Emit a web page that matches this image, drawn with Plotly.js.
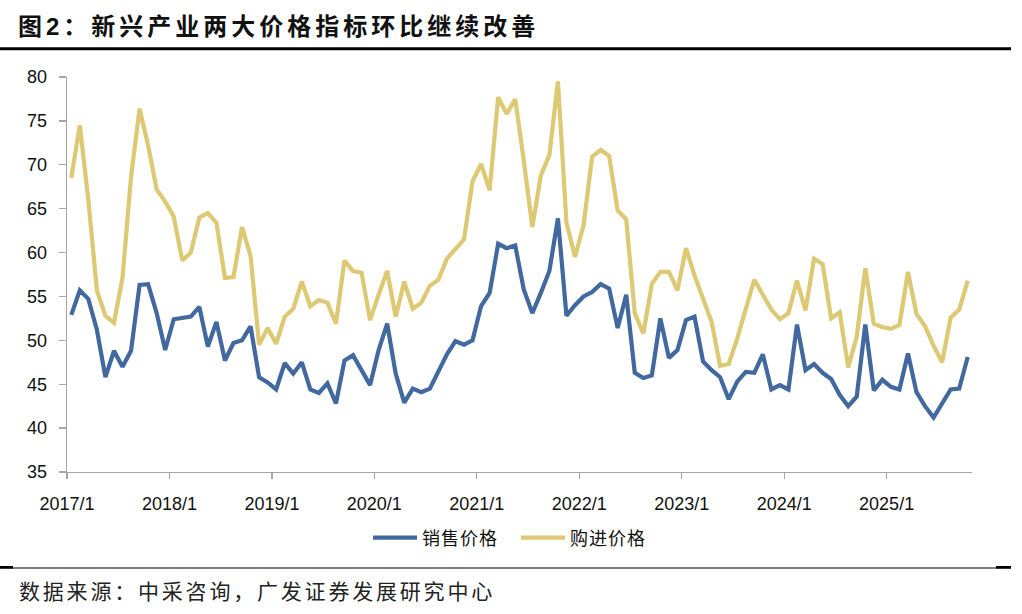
<!DOCTYPE html>
<html>
<head>
<meta charset="utf-8">
<script src="https://cdn.plot.ly/plotly-3.0.1.min.js"></script>
<style>
  html, body { margin: 0; padding: 0; background: #fff; }
  #chart { width: 1022px; height: 614px; }
  .gtitle { letter-spacing: 4px; }
  .annotation-text { letter-spacing: 2.8px; }
  .legendtext { letter-spacing: 1px; }
</style>
</head>
<body>
<div id="chart"></div>
<script>
// ---- data (monthly, 2017/1 - 2025/10) ----
const startYear = 2017;
const nMonths = 106;
const tickLabels = ['2017/1','2018/1','2019/1','2020/1','2021/1','2022/1','2023/1','2024/1','2025/1'];

const salesPrice = [
  52.9, 55.7, 54.7, 51.2, 45.8, 48.8, 47.0, 48.8, 56.3, 56.4, 53.1, 48.9,
  52.4, 52.6, 52.7, 53.8, 49.3, 52.1, 47.7, 49.7, 50.0, 51.6, 45.8, 45.2,
  44.4, 47.4, 46.2, 47.5, 44.4, 44.0, 45.1, 42.8, 47.7, 48.3, 46.6, 44.9,
  48.9, 51.9, 46.2, 42.9, 44.5, 44.1, 44.5, 46.4, 48.4, 49.9, 49.5, 50.0,
  53.9, 55.4, 61.0, 60.5, 60.8, 55.8, 53.1, 55.4, 57.9, 63.9, 52.8, 54.0,
  55.0, 55.5, 56.4, 55.9, 51.4, 55.2, 46.3, 45.7, 46.0, 52.5, 48.0, 48.9,
  52.3, 52.7, 47.6, 46.6, 45.8, 43.3, 45.3, 46.4, 46.3, 48.4, 44.4, 44.9,
  44.4, 51.8, 46.6, 47.3, 46.3, 45.6, 43.8, 42.5, 43.6, 51.8, 44.3, 45.5,
  44.7, 44.4, 48.5, 44.1, 42.5, 41.2, 42.8, 44.4, 44.5, 48.1
];

const purchasePrice = [
  68.5, 74.5, 66.0, 55.7, 52.8, 52.0, 57.1, 68.6, 76.4, 72.2, 67.2, 65.8,
  64.1, 59.1, 60.0, 64.0, 64.5, 63.4, 57.1, 57.2, 62.9, 59.6, 49.5, 51.4,
  49.6, 52.7, 53.6, 56.7, 53.9, 54.6, 54.3, 51.9, 59.1, 57.9, 57.7, 52.3,
  55.2, 57.9, 52.7, 56.7, 53.6, 54.3, 56.2, 56.9, 59.3, 60.4, 61.5, 68.1,
  70.1, 67.1, 77.7, 75.8, 77.5, 70.5, 62.9, 68.8, 71.1, 79.5, 63.4, 59.5,
  63.1, 70.9, 71.7, 71.0, 64.8, 63.8, 53.1, 50.8, 56.4, 57.8, 57.8, 55.7,
  60.5, 57.4, 54.6, 52.1, 47.1, 47.3, 50.2, 53.6, 56.9, 55.2, 53.5, 52.4,
  53.1, 56.8, 53.4, 59.3, 58.7, 52.5, 53.2, 46.9, 50.4, 58.2, 51.9, 51.5,
  51.3, 51.75, 57.8, 53.0, 51.6, 49.4, 47.5, 52.6, 53.5, 56.8
];

// month labels and category index positions
const monthLabels = [];
for (let i = 0; i < nMonths; i++) {
  monthLabels.push((startYear + Math.floor(i / 12)) + '/' + (i % 12 + 1));
}
const xIdx = monthLabels.map((_, i) => i);
const tickVals = tickLabels.map((_, k) => k * 12 - 0.5);

const BLUE = '#41699F';
const YELLOW = '#DDC873';
const AXIS = '#A6A6A6';

const traces = [
  {
    x: xIdx, y: salesPrice, text: monthLabels, name: '销售价格',
    type: 'scatter', mode: 'lines',
    line: { color: BLUE, width: 4.2 },
    hovertemplate: '%{text}: %{y}<extra>销售价格</extra>'
  },
  {
    x: xIdx, y: purchasePrice, text: monthLabels, name: '购进价格',
    type: 'scatter', mode: 'lines',
    line: { color: YELLOW, width: 4.2 },
    hovertemplate: '%{text}: %{y}<extra>购进价格</extra>'
  }
];

// paper-coordinate helpers (plot area: x 67..972, y 77..472 px)
const L = 67, R = 50, T = 77, B = 142;
const PW = 1022 - L - R, PH = 614 - T - B;
const px = v => (v - L) / PW;
const py = v => (614 - B - v) / PH;

const layout = {
  width: 1022, height: 614,
  margin: { l: L, r: R, t: T, b: B, pad: 0 },
  paper_bgcolor: '#ffffff', plot_bgcolor: '#ffffff',
  font: { family: 'Liberation Sans, Arial, "Noto Sans CJK SC", sans-serif', size: 18, color: '#111111' },
  title: {
    text: '<b>图2：新兴产业两大价格指标环比继续改善</b>',
    font: { family: 'Liberation Sans, "Noto Sans CJK SC", sans-serif', size: 24, color: '#111111' },
    xref: 'container', yref: 'container',
    x: 18 / 1022, xanchor: 'left',
    y: 1 - 27 / 614, yanchor: 'middle'
  },
  showlegend: true,
  legend: {
    orientation: 'h',
    x: px(516), xanchor: 'center',
    y: py(538), yanchor: 'middle',
    font: { family: '"Noto Sans CJK SC", sans-serif', size: 18, color: '#111111' },
    itemwidth: 44,
    entrywidth: 89, entrywidthmode: 'pixels',
    traceorder: 'normal',
    bgcolor: 'rgba(0,0,0,0)'
  },
  xaxis: {
    type: 'linear',
    range: [-0.5, nMonths - 0.5],
    tickmode: 'array', tickvals: tickVals, ticktext: tickLabels,
    showgrid: false, zeroline: false,
    showline: true, linecolor: AXIS, linewidth: 1.3,
    ticks: 'outside', ticklen: 6, tickcolor: AXIS, tickwidth: 1.3,
    ticklabelstandoff: 9,
    tickfont: { family: 'Liberation Sans, Arial, sans-serif', size: 18, color: '#111111' },
    fixedrange: true
  },
  yaxis: {
    range: [35, 80],
    tickmode: 'linear', tick0: 35, dtick: 5,
    showgrid: false, zeroline: false,
    showline: true, linecolor: AXIS, linewidth: 1.3,
    ticks: 'outside', ticklen: 7, tickcolor: AXIS, tickwidth: 1.3,
    ticklabelstandoff: 8,
    tickfont: { family: 'Liberation Sans, Arial, sans-serif', size: 18, color: '#111111' },
    fixedrange: true
  },
  shapes: [
    // top rule under the title
    { type: 'line', xref: 'paper', yref: 'paper', x0: px(0), x1: px(1011), y0: py(48.8), y1: py(48.8),
      line: { color: '#000000', width: 3 } },
    // bottom thin rule
    { type: 'line', xref: 'paper', yref: 'paper', x0: px(0), x1: px(1011), y0: py(568), y1: py(568),
      line: { color: '#000000', width: 1.2 } },
    // thick ends of bottom rule
    { type: 'line', xref: 'paper', yref: 'paper', x0: px(0), x1: px(13), y0: py(567.3), y1: py(567.3),
      line: { color: '#000000', width: 2.6 } },
    { type: 'line', xref: 'paper', yref: 'paper', x0: px(996), x1: px(1011), y0: py(567.3), y1: py(567.3),
      line: { color: '#000000', width: 2.6 } }
  ],
  annotations: [
    { text: '数据来源：中采咨询，广发证券发展研究中心',
      xref: 'paper', yref: 'paper', x: px(17), y: py(590), xanchor: 'left', yanchor: 'middle',
      showarrow: false,
      font: { family: '"Noto Sans CJK SC", sans-serif', size: 21, color: '#222222' } }
  ]
};

Plotly.newPlot('chart', traces, layout, { displayModeBar: false, staticPlot: true });
</script>
</body>
</html>
